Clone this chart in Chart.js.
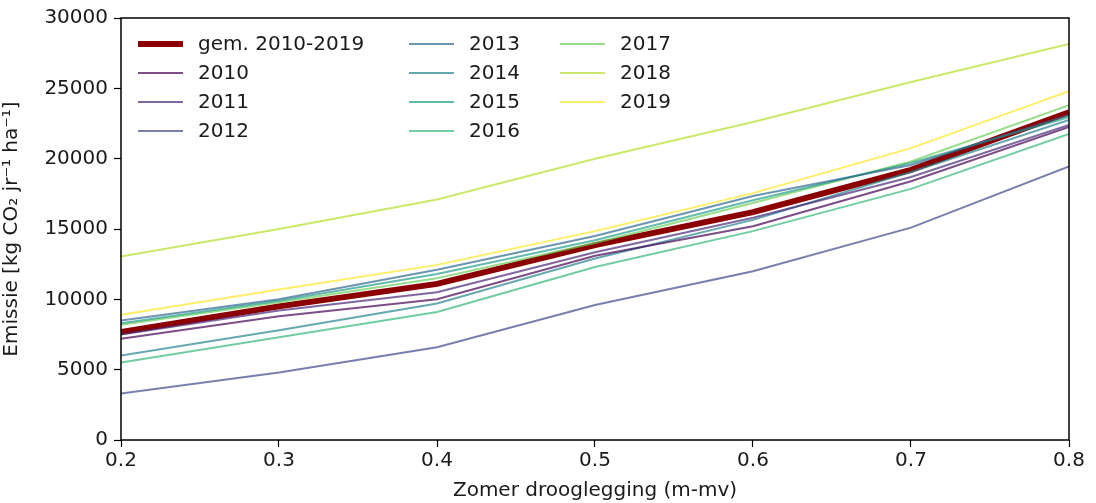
<!DOCTYPE html>
<html>
<head>
<meta charset="utf-8">
<script src="https://cdn.jsdelivr.net/npm/chart.js@4/dist/chart.umd.min.js"></script>
<style>
  html, body { margin: 0; padding: 0; background: #fff; }
  #wrap { width: 1096px; height: 503px; }
</style>
</head>
<body>
<div id="wrap"><canvas id="emissionChart"></canvas></div>
<script>
// Summer drainage depth (m below surface)
const drooglegging = [0.2, 0.3, 0.4, 0.5, 0.6, 0.7, 0.8];

// Emission per year, kg CO2 per year per hectare
const y2010 = [7200, 8800, 10000, 13100, 15200, 18400, 22250];
const y2011 = [7500, 9200, 10500, 13350, 15800, 18700, 22400];
const y2012 = [3300, 4800, 6600, 9600, 12000, 15100, 19450];
const y2013 = [8500, 10000, 12100, 14500, 17350, 19550, 23100];
const y2014 = [6000, 7800, 9700, 12900, 15650, 19050, 22750];
const y2015 = [8300, 9900, 11800, 14200, 17050, 19700, 22950];
const y2016 = [5500, 7300, 9100, 12300, 14850, 17850, 21750];
const y2017 = [8200, 9800, 11500, 14000, 16850, 19800, 23800];
const y2018 = [13050, 15000, 17100, 20000, 22600, 25450, 28150];
const y2019 = [8900, 10700, 12450, 14850, 17550, 20750, 24800];
const gemiddeld = [7680, 9500, 11100, 13850, 16200, 19200, 23300];

const yearLabels = ["2010", "2011", "2012", "2013", "2014", "2015", "2016", "2017", "2018", "2019"];
const yearSeries = [y2010, y2011, y2012, y2013, y2014, y2015, y2016, y2017, y2018, y2019];
// viridis, 10 steps
const yearColors = [
  "rgba(68, 1, 84, 0.7)",
  "rgba(72, 40, 120, 0.7)",
  "rgba(62, 73, 137, 0.7)",
  "rgba(49, 104, 142, 0.7)",
  "rgba(38, 130, 142, 0.7)",
  "rgba(31, 158, 137, 0.7)",
  "rgba(53, 183, 121, 0.7)",
  "rgba(110, 206, 88, 0.7)",
  "rgba(181, 222, 43, 0.7)",
  "rgba(253, 231, 37, 0.7)",
];

const xTicks = [0.2, 0.3, 0.4, 0.5, 0.6, 0.7, 0.8];
const yTicks = [0, 5000, 10000, 15000, 20000, 25000, 30000];

const FONT = "DejaVu Sans";

function toPoints(values) {
  return values.map((v, i) => ({ x: drooglegging[i], y: v }));
}

const datasets = [
  {
    label: "gem. 2010-2019",
    data: toPoints(gemiddeld),
    borderColor: "#8b0000",
    borderWidth: 6,
    order: 1, // drawn underneath the yearly lines
  },
];
yearSeries.forEach((vals, i) => {
  datasets.push({
    label: yearLabels[i],
    data: toPoints(vals),
    borderColor: yearColors[i],
    borderWidth: 2,
    order: 0,
  });
});

// Box around the plot area
const frame = {
  id: "frame",
  afterDatasetsDraw(chart) {
    const a = chart.chartArea;
    const c = chart.ctx;
    c.save();
    c.strokeStyle = "#000";
    c.lineWidth = 1.5;
    c.strokeRect(a.left, a.top, a.right - a.left, a.bottom - a.top);
    c.restore();
  },
};

// Three-column legend inside the top-left corner
const innerLegend = {
  id: "innerLegend",
  afterDraw(chart) {
    const a = chart.chartArea;
    const c = chart.ctx;
    const colX = [17, 288, 439];
    const rowH = 29;
    c.save();
    c.font = "20px '" + FONT + "'";
    c.textBaseline = "middle";
    c.fillStyle = "#1a1a1a";
    chart.data.datasets.forEach((ds, i) => {
      const col = i < 4 ? 0 : i < 8 ? 1 : 2;
      const row = i < 4 ? i : i < 8 ? i - 4 : i - 8;
      const x = a.left + colX[col];
      const y = a.top + 26 + row * rowH;
      c.strokeStyle = ds.borderColor;
      c.lineWidth = ds.borderWidth;
      c.beginPath();
      c.moveTo(x, y);
      c.lineTo(x + 45, y);
      c.stroke();
      c.fillText(ds.label, x + 60, y + 1);
    });
    c.restore();
  },
};

new Chart(document.getElementById("emissionChart").getContext("2d"), {
  type: "line",
  data: { datasets },
  options: {
    responsive: true,
    maintainAspectRatio: false,
    animation: false,
    layout: { padding: { top: 18, right: 27, left: 0, bottom: 0 } },
    elements: {
      point: { radius: 0 },
      line: { tension: 0 },
    },
    plugins: {
      legend: { display: false },
      tooltip: { enabled: false },
    },
    scales: {
      x: {
        type: "linear",
        min: 0.2,
        max: 0.8,
        afterBuildTicks(scale) {
          scale.ticks = xTicks.map((v) => ({ value: v }));
        },
        afterFit(scale) {
          scale.height = 63;
        },
        grid: {
          drawOnChartArea: false,
          drawTicks: true,
          tickLength: 7,
          tickColor: "#000",
          tickWidth: 1.2,
        },
        border: { display: false },
        ticks: {
          color: "#1a1a1a",
          padding: 2,
          maxRotation: 0,
          font: { family: FONT, size: 20 },
          callback: (v) => Number(v).toFixed(1),
        },
        title: {
          display: true,
          text: "Zomer drooglegging (m-mv)",
          color: "#1a1a1a",
          font: { family: FONT, size: 20 },
          padding: { top: 0, bottom: 0 },
        },
      },
      y: {
        min: 0,
        max: 30000,
        afterBuildTicks(scale) {
          scale.ticks = yTicks.map((v) => ({ value: v }));
        },
        afterFit(scale) {
          scale.width = 121;
        },
        grid: {
          drawOnChartArea: false,
          drawTicks: true,
          tickLength: 7,
          tickColor: "#000",
          tickWidth: 1.2,
        },
        border: { display: false },
        ticks: {
          color: "#1a1a1a",
          padding: 6,
          font: { family: FONT, size: 20 },
          callback: (v) => String(v),
        },
        title: {
          display: true,
          text: "Emissie [kg CO\u2082 jr\u207B\u00B9 ha\u207B\u00B9]",
          color: "#1a1a1a",
          font: { family: FONT, size: 20 },
          padding: { top: 0, bottom: 0 },
        },
      },
    },
  },
  plugins: [frame, innerLegend],
});
</script>
</body>
</html>
